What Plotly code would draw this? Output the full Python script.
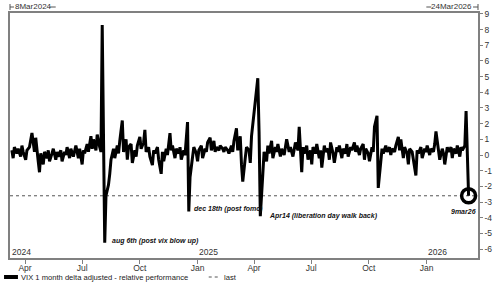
import pandas as pd
import plotly.graph_objects as go

# ---------------- data ----------------
series_name = "VIX 1 month delta adjusted - relative performance"
last_name = "last"

values = [
    0.3, -0.2, 0.5, 0.1, 0.4, -0.1, 0.6, 0.2, -0.3, 0.3,
    0.5, 0.9, 1.4, 0.2, 1.1, -0.4, -1.1, 0.1, -0.6, 0.2,
    -0.2, 0.3, -0.4, 0.1, 0.4, -0.3, 0.2, -0.1, 0.3, -0.4,
    0.2, 0.0, 0.5, -0.2, 0.4, -0.1, 0.3, 0.6, -0.2, 0.4,
    -0.6, 0.3, 0.1, 0.7, 0.2, 1.2, 0.4, 1.0, 0.3, 1.3,
    0.5, 0.2, 8.3, -5.6, -2.6, -1.9, -1.2, -0.3, 0.4, -0.2,
    0.6, 0.1, 0.9, 2.2, 0.2, 1.0, -0.3, 0.5, 0.7, -0.5,
    0.3, -0.1, 0.6, 1.15, 0.4, 0.8, 1.6, 0.2, 0.5, -0.1,
    -0.65, 0.3, 0.1, 0.5, -0.3, -1.2, 0.2, -0.4, 0.4, 0.0,
    1.4, 0.3, 0.6, -0.2, 0.4, 0.1, 0.5, -0.3, 0.3, 0.0,
    2.1, -3.6, -1.4, -0.2, 0.5, 0.1, -0.4, 0.3, 0.6, -0.2,
    0.4, 0.2, 0.8, 1.1, 0.3, 0.9, 0.2, 0.5, 0.3, 0.6,
    0.4, 0.2, 0.5, 0.3, 0.1, 0.6, 0.2, 0.9, 1.7, 0.3,
    1.2, -0.6, -1.7, -0.2, 0.5, 0.3, -0.5, 1.2, 2.7, 3.8,
    4.9, 1.5, -3.9, -1.2, 0.2, -0.4, 0.6, 0.1, 0.9, -0.2,
    0.5, 0.2, 0.7, -0.1, 0.4, 0.0, 0.6, 1.0, 0.2, 0.5,
    -0.1, 0.4, 0.8, 0.3, 1.8, -1.1, 0.5, 0.1, 0.6, -0.3,
    0.3, -0.6, 0.5, 0.1, 0.7, -0.2, 0.3, -0.8, 0.6, 0.2,
    0.4, -0.3, 0.8, 0.1, -0.5, 0.5, 0.2, 0.6, -0.2, 0.4,
    0.1, 0.7, -0.1, 0.5, 0.3, 0.8, 0.2, 0.6, 0.0, 0.4,
    0.7, -0.3, 0.4, 0.1, -0.4, 0.5, 0.2, 1.8, 2.5, -2.1,
    -0.5, 0.4, 0.1, 0.6, 0.2, 0.5, 0.0, 0.4, 0.2, 0.6,
    1.15, 0.3, 1.0, -0.2, 0.5, 0.1, -0.6, 0.4, 0.2, -0.3,
    -1.3, 0.3, 0.1, 0.5, -0.2, 0.4, 0.2, 0.6, 0.0, 0.4,
    0.2, 0.7, 1.5, 0.3, -0.3, 0.4, 0.1, -0.6, 0.5, 0.2,
    0.5, -0.2, 0.4, 0.1, 0.6, -0.1, 0.5, 0.3, 0.6, 2.8,
    -2.6,
]

bdays = pd.bdate_range("2024-03-08", "2026-03-09")
dates = list(bdays[::-2][::-1])[-len(values):]

x_start = "2024-03-08"
x_end = "2026-03-24"
top_left_label = "8Mar2024"
top_right_label = "24Mar2026"

x_tick_vals = ["2024-04-01", "2024-07-01", "2024-10-01", "2025-01-01",
               "2025-04-01", "2025-07-01", "2025-10-01", "2026-01-01"]
x_tick_text = ["Apr", "Jul", "Oct", "Jan", "Apr", "Jul", "Oct", "Jan"]
year_vals = ["2024-03-09", "2025-01-01", "2026-01-01"]
year_text = ["2024", "2025", "2026"]

y_tick_vals = [9, 8, 7, 6, 5, 4, 3, 2, 1, 0, -1, -2, -3, -4, -5, -6]
y_tick_text = ["9", "8", "7", "6", "5", "4", "3", "2", "1", "0",
               "-1", "-2", "-3", "-4", "-5", "-6"]

notes_text = ["aug 6th (post vix blow up)", "dec 18th (post fomc)",
              "Apr14 (liberation day walk back)"]
notes_x = ["2024-08-15", "2024-12-23", "2025-04-22"]
notes_y = [-5.5, -3.45, -3.9]
last_label = "9mar26"

# ---------------- layout helpers ----------------
W, H = 500, 288
L, R, T, B = 8, 21, 13, 30
pw, ph = W - L - R, H - T - B


def px(x):
    return (x - L) / pw


def py(y):
    return (H - B - y) / ph


FONT = "Liberation Sans"
TXT = "#333333"
GRAY = "#808080"

fig = go.Figure()

last_val = values[-1]
fig.add_trace(go.Scatter(
    x=[x_start, x_end], y=[last_val, last_val], mode="lines",
    line=dict(color="#555555", width=1, dash="dot"),
    showlegend=False, hoverinfo="skip"))

fig.add_trace(go.Scatter(
    x=dates, y=values, mode="lines",
    line=dict(color="black", width=3),
    name=series_name, showlegend=False))

fig.add_trace(go.Scatter(
    x=[dates[-1]], y=[values[-1]], mode="markers",
    marker=dict(symbol="circle-open", size=14, color="black",
                line=dict(width=3.5, color="black")),
    showlegend=False, hoverinfo="skip"))

annotations = []
for t, xv, yv in zip(notes_text, notes_x, notes_y):
    annotations.append(dict(
        x=xv, y=yv, xref="x", yref="y", text=t, showarrow=False,
        xanchor="left", yanchor="middle",
        font=dict(family=FONT, size=7, color="#111111",
                  weight="bold", style="italic")))

annotations.append(dict(
    x=dates[-1], y=values[-1], xref="x", yref="y", text=last_label,
    showarrow=False, xanchor="center", yanchor="middle", yshift=-16,
    xshift=-5,
    font=dict(family=FONT, size=7, color="#111111",
              weight="bold", style="italic")))

for xv, t in zip(year_vals, year_text):
    annotations.append(dict(
        x=xv, y=0, xref="x", yref="paper", text=t, showarrow=False,
        xanchor="left", yanchor="bottom", xshift=-1, yshift=-1,
        font=dict(family=FONT, size=8.5, color=TXT)))

# top labels
annotations.append(dict(
    x=px(12), y=py(7), xref="paper", yref="paper", text=top_left_label,
    showarrow=False, xanchor="left", yanchor="middle",
    font=dict(family=FONT, size=8, color=TXT), borderpad=0))
annotations.append(dict(
    x=px(474), y=py(7), xref="paper", yref="paper", text=top_right_label,
    showarrow=False, xanchor="right", yanchor="middle",
    font=dict(family=FONT, size=8, color=TXT), borderpad=0))

# legend texts
annotations.append(dict(
    x=px(18), y=py(277), xref="paper", yref="paper", text=series_name,
    showarrow=False, xanchor="left", yanchor="middle",
    font=dict(family=FONT, size=7.6, color="#222222"), borderpad=0))
annotations.append(dict(
    x=px(222), y=py(277), xref="paper", yref="paper", text=last_name,
    showarrow=False, xanchor="left", yanchor="middle",
    font=dict(family=FONT, size=7.6, color="#222222"), borderpad=0))

shapes = [
    # top-left bracket
    dict(type="line", xref="paper", yref="paper", x0=px(8), x1=px(8),
         y0=py(4), y1=py(10), line=dict(color="#555555", width=1)),
    dict(type="line", xref="paper", yref="paper", x0=px(8), x1=px(12),
         y0=py(7), y1=py(7), line=dict(color="#555555", width=1)),
    dict(type="line", xref="paper", yref="paper", x0=px(48), x1=px(54),
         y0=py(7), y1=py(7), line=dict(color="#555555", width=1)),
    # top-right bracket
    dict(type="line", xref="paper", yref="paper", x0=px(427), x1=px(432),
         y0=py(7), y1=py(7), line=dict(color="#555555", width=1)),
    dict(type="line", xref="paper", yref="paper", x0=px(474), x1=px(479),
         y0=py(7), y1=py(7), line=dict(color="#555555", width=1)),
    dict(type="line", xref="paper", yref="paper", x0=px(479), x1=px(479),
         y0=py(4), y1=py(10), line=dict(color="#555555", width=1)),
    # legend samples
    dict(type="line", xref="paper", yref="paper", x0=px(2), x1=px(16),
         y0=py(277), y1=py(277), line=dict(color="black", width=4)),
    dict(type="line", xref="paper", yref="paper", x0=px(208), x1=px(218),
         y0=py(277), y1=py(277),
         line=dict(color="#555555", width=1, dash="dot")),
]

fig.update_layout(
    width=W, height=H,
    margin=dict(l=L, r=R, t=T, b=B, pad=0),
    paper_bgcolor="white", plot_bgcolor="white",
    showlegend=False,
    annotations=annotations, shapes=shapes,
    xaxis=dict(
        range=[x_start, x_end], type="date",
        tickmode="array", tickvals=x_tick_vals, ticktext=x_tick_text,
        ticks="outside", ticklen=4, tickcolor=GRAY, tickwidth=1,
        ticklabelstandoff=-3,
        showline=True, linecolor=GRAY, linewidth=1.5, mirror=True,
        showgrid=False, zeroline=False,
        tickfont=dict(family=FONT, size=8.5, color=TXT)),
    yaxis=dict(
        range=[-6.57, 9.06], side="right",
        tickmode="array", tickvals=y_tick_vals, ticktext=y_tick_text,
        ticks="outside", ticklen=3, tickcolor=GRAY, tickwidth=1,
        showline=True, linecolor=GRAY, linewidth=1.5, mirror=True,
        showgrid=False, zeroline=False,
        tickfont=dict(family=FONT, size=8.5, color=TXT)),
)

fig.write_html("out.html")
